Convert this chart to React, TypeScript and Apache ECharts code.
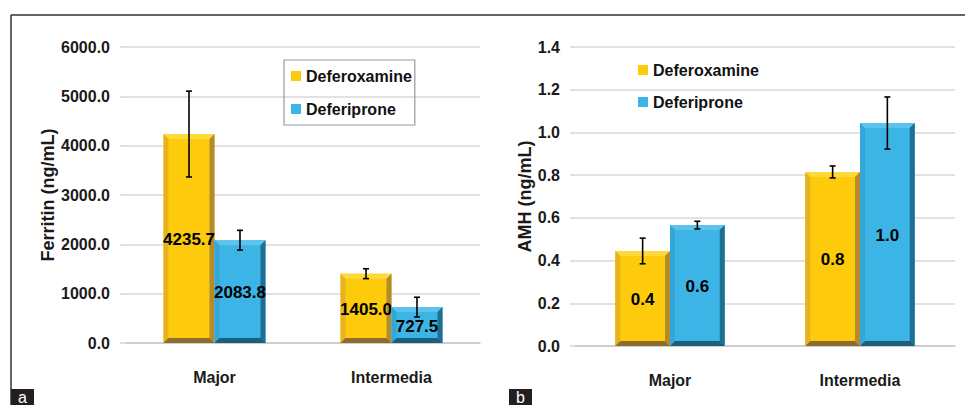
import React, { useEffect, useRef } from "react";
import * as echarts from "echarts";

const categories = ["Major", "Intermedia"];
const seriesNames = ["Deferoxamine", "Deferiprone"];

// Panel a: Ferritin (ng/mL)
const ferritinDeferoxamine = [4235.7, 1405.0];
const ferritinDeferiprone = [2083.8, 727.5];
const ferritinErrDeferoxamine = [870, 100];
const ferritinErrDeferiprone = [200, 200];

// Panel b: AMH (ng/mL)
const amhDeferoxamine = [0.445, 0.815];
const amhDeferiprone = [0.566, 1.044];
const amhErrDeferoxamine = [0.06, 0.028];
const amhErrDeferiprone = [0.018, 0.122];

const FONT = '"Liberation Sans", Arial, sans-serif';

const palettes = [
  { face: "#FDCB0B", top: "#FFD83A", left: "#E6B21F", right: "#B38B2C", bottom: "#8D6C2D" },
  { face: "#3CB5E6", top: "#5CC3EC", left: "#34A7D8", right: "#1F6F93", bottom: "#1B5E7E" },
];

function makeRender(seriesIdx: number, decimals: number) {
  const pal = palettes[seriesIdx];
  return (params: any, api: any) => {
    const cat = api.value(0);
    const val = api.value(1);
    const err = api.value(2);
    const topPt = api.coord([cat, val]);
    const basePt = api.coord([cat, 0]);
    const band = api.size([1, 0])[0];
    const bw = band * 0.288;
    const cx = topPt[0];
    const x0 = seriesIdx === 0 ? cx - bw : cx;
    const x1 = x0 + bw;
    const yT = topPt[1];
    const yB = basePt[1];
    const b = Math.min(5, (yB - yT) / 2);
    const mid = (x0 + x1) / 2;
    const eTop = api.coord([cat, val + err])[1];
    const eBot = api.coord([cat, val - err])[1];
    const cap = 3;
    const errStyle = { stroke: "#000", lineWidth: 1.6 };
    return {
      type: "group",
      children: [
        { type: "rect", shape: { x: x0, y: yT, width: bw, height: yB - yT }, style: { fill: pal.face } },
        { type: "polygon", shape: { points: [[x0, yT], [x1, yT], [x1 - b, yT + b], [x0 + b, yT + b]] }, style: { fill: pal.top } },
        { type: "polygon", shape: { points: [[x0, yT], [x0 + b, yT + b], [x0 + b, yB - b], [x0, yB]] }, style: { fill: pal.left } },
        { type: "polygon", shape: { points: [[x1, yT], [x1 - b, yT + b], [x1 - b, yB - b], [x1, yB]] }, style: { fill: pal.right } },
        { type: "polygon", shape: { points: [[x0, yB], [x0 + b, yB - b], [x1 - b, yB - b], [x1, yB]] }, style: { fill: pal.bottom } },
        { type: "line", shape: { x1: mid, y1: eTop, x2: mid, y2: eBot }, style: errStyle },
        { type: "line", shape: { x1: mid - cap, y1: eTop, x2: mid + cap, y2: eTop }, style: errStyle },
        { type: "line", shape: { x1: mid - cap, y1: eBot, x2: mid + cap, y2: eBot }, style: errStyle },
        {
          type: "text",
          x: mid,
          y: (yT + yB) / 2 + 1,
          style: {
            text: Number(val).toFixed(decimals),
            align: "center",
            verticalAlign: "middle",
            fontFamily: FONT,
            fontWeight: "bold",
            fontSize: 17,
            fill: "#000",
          },
        },
      ],
    };
  };
}

function buildData(vals: number[], errs: number[]) {
  return vals.map((v, i) => [i, v, errs[i]]);
}

export default function App() {
  const ref = useRef<HTMLDivElement>(null);
  useEffect(() => {
    document.body.style.margin = "0";
    const chart = echarts.init(ref.current!, null, { renderer: "svg" });
    const axisLabel = { fontFamily: FONT, fontWeight: "bold", fontSize: 16, color: "#1a1a1a" };
    const yCommon = (min: number, max: number, interval: number, name: string, gap: number, margin: number, tick: number) => ({
      type: "value",
      min,
      max,
      interval,
      name,
      nameLocation: "middle",
      nameGap: gap,
      nameTextStyle: { fontFamily: FONT, fontWeight: "bold", fontSize: 18, color: "#1a1a1a" },
      axisLine: { show: false },
      axisTick: { show: true, length: tick, lineStyle: { color: "#D4D4D4", width: 1.5 } },
      splitLine: { lineStyle: { color: "#D9D9D9", width: 1.5 } },
      axisLabel: { ...axisLabel, margin, formatter: (v: number) => v.toFixed(1) },
    });
    const xCommon = (gridIndex: number) => ({
      type: "category",
      gridIndex,
      data: categories,
      axisLine: { lineStyle: { color: "#C8C8C8", width: 1.5 } },
      axisTick: { length: 7, lineStyle: { color: "#C8C8C8", width: 1.5 } },
      axisLabel: { ...axisLabel, margin: 26 },
    });
    const legendText = { fontFamily: FONT, fontWeight: "bold", fontSize: 16, color: "#111", lineHeight: 18 };
    chart.setOption({
      animation: false,
      backgroundColor: "#fff",
      grid: [
        { left: 126, top: 47, width: 354, height: 296 },
        { left: 575, top: 47, width: 380, height: 299 },
      ],
      xAxis: [xCommon(0), xCommon(1)],
      yAxis: [
        { ...yCommon(0, 6000, 1000, "Ferritin (ng/mL)", 69, 16, 6), gridIndex: 0 },
        { ...yCommon(0, 1.4, 0.2, "AMH (ng/mL)", 38, 15, 5), gridIndex: 1 },
      ],
      legend: [
        {
          left: 284,
          top: 60,
          orient: "vertical",
          icon: "rect",
          itemWidth: 10,
          itemHeight: 10,
          itemGap: 15,
          padding: [7, 3, 7, 7],
          borderColor: "#9a9a9a",
          borderWidth: 1.2,
          textStyle: legendText,
          data: seriesNames,
        },
        {
          left: 638,
          top: 61,
          orient: "vertical",
          icon: "rect",
          itemWidth: 10,
          itemHeight: 10,
          itemGap: 14,
          padding: 0,
          textStyle: legendText,
          data: seriesNames,
        },
      ],
      series: [
        {
          type: "custom",
          name: seriesNames[0],
          xAxisIndex: 0,
          yAxisIndex: 0,
          itemStyle: { color: palettes[0].face },
          renderItem: makeRender(0, 1),
          encode: { x: 0, y: 1 },
          data: buildData(ferritinDeferoxamine, ferritinErrDeferoxamine),
        },
        {
          type: "custom",
          name: seriesNames[1],
          xAxisIndex: 0,
          yAxisIndex: 0,
          itemStyle: { color: palettes[1].face },
          renderItem: makeRender(1, 1),
          encode: { x: 0, y: 1 },
          data: buildData(ferritinDeferiprone, ferritinErrDeferiprone),
        },
        {
          type: "custom",
          name: seriesNames[0],
          xAxisIndex: 1,
          yAxisIndex: 1,
          itemStyle: { color: palettes[0].face },
          renderItem: makeRender(0, 1),
          encode: { x: 0, y: 1 },
          data: buildData(amhDeferoxamine, amhErrDeferoxamine),
        },
        {
          type: "custom",
          name: seriesNames[1],
          xAxisIndex: 1,
          yAxisIndex: 1,
          itemStyle: { color: palettes[1].face },
          renderItem: makeRender(1, 1),
          encode: { x: 0, y: 1 },
          data: buildData(amhDeferiprone, amhErrDeferiprone),
        },
      ],
      graphic: [
        { type: "line", shape: { x1: 11, y1: 15, x2: 965, y2: 15 }, style: { stroke: "#333", lineWidth: 1.5 } },
        { type: "line", shape: { x1: 11, y1: 15, x2: 11, y2: 405 }, style: { stroke: "#333", lineWidth: 1.5 } },
        { type: "rect", shape: { x: 11, y: 389, width: 23, height: 16 }, style: { fill: "#231f20" } },
        { type: "text", x: 22.5, y: 397, style: { text: "a", align: "center", verticalAlign: "middle", fontFamily: FONT, fontSize: 16, fill: "#fff" } },
        { type: "rect", shape: { x: 509, y: 389, width: 23, height: 16 }, style: { fill: "#231f20" } },
        { type: "text", x: 520.5, y: 397, style: { text: "b", align: "center", verticalAlign: "middle", fontFamily: FONT, fontSize: 16, fill: "#fff" } },
      ],
    });
    return () => chart.dispose();
  }, []);
  return <div ref={ref} style={{ position: "absolute", left: 0, top: 0, width: 965, height: 405 }} />;
}
